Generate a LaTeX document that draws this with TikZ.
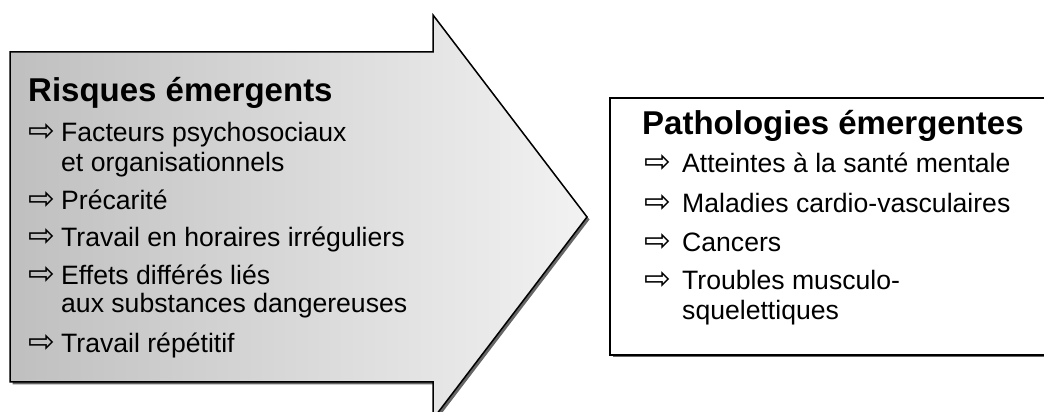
\documentclass[tikz,border=0pt]{standalone}
\usepackage{fontspec}
\setmainfont{Liberation Sans}
\newfontfamily\symfont{DejaVu Sans}
\usetikzlibrary{shadows}
\begin{document}
\begin{tikzpicture}[x=1pt,y=1pt,
  bigarrow/.style={line width=1.5pt,draw=black,left color=black!25,right color=black!5,
    drop shadow={shadow xshift=2.5pt,shadow yshift=-2.5pt,fill=black!60,opacity=1}},
  framebox/.style={line width=1.5pt,draw=black,fill=white,
    drop shadow={shadow xshift=2.5pt,shadow yshift=-2.5pt,fill=black!60,opacity=1}},
  heading/.style={anchor=base west,inner sep=0pt,font=\bfseries\fontsize{33}{36}\selectfont},
  entry/.style={anchor=base west,inner sep=0pt,font=\fontsize{26.6}{30}\selectfont},
  pointer/.style={anchor=base west,inner sep=0pt,font=\symfont\fontsize{32}{36}\selectfont}]
\useasboundingbox (0,0) rectangle (1044,412);
% big arrow and the box on the right
\path[bigarrow] (10,360) -- (433,360) -- (433,397) -- (587,195) -- (433,-7) -- (433,30) -- (10,30) -- cycle;
\path[framebox] (610,57) rectangle (1047,314);
% left part
\node[heading] (risques) at (28,310) {Risques émergents};
\node[pointer] (ra1) at (28,270) {⇨};
\node[entry] (r1) at (61,270) {Facteurs psychosociaux};
\node[entry] (r1b) at (61,240) {et organisationnels};
\node[pointer] (ra2) at (28,202) {⇨};
\node[entry] (r2) at (61,202) {Précarité};
\node[pointer] (ra3) at (28,165) {⇨};
\node[entry] (r3) at (61,165) {Travail en horaires irréguliers};
\node[pointer] (ra4) at (28,127) {⇨};
\node[entry] (r4) at (61,127) {Effets différés liés};
\node[entry] (r4b) at (61,99) {aux substances dangereuses};
\node[pointer] (ra5) at (28,59) {⇨};
\node[entry] (r5) at (61,59) {Travail répétitif};
% right part
\node[heading] (patho) at (642,277) {Pathologies émergentes};
\node[pointer] (pa1) at (644,239) {⇨};
\node[entry] (p1) at (682,239) {Atteintes à la santé mentale};
\node[pointer] (pa2) at (644,199) {⇨};
\node[entry] (p2) at (682,199) {Maladies cardio-vasculaires};
\node[pointer] (pa3) at (644,160) {⇨};
\node[entry] (p3) at (682,160) {Cancers};
\node[pointer] (pa4) at (644,122) {⇨};
\node[entry] (p4) at (682,122) {Troubles musculo-};
\node[entry] (p4b) at (682,92) {squelettiques};
\end{tikzpicture}
\end{document}
